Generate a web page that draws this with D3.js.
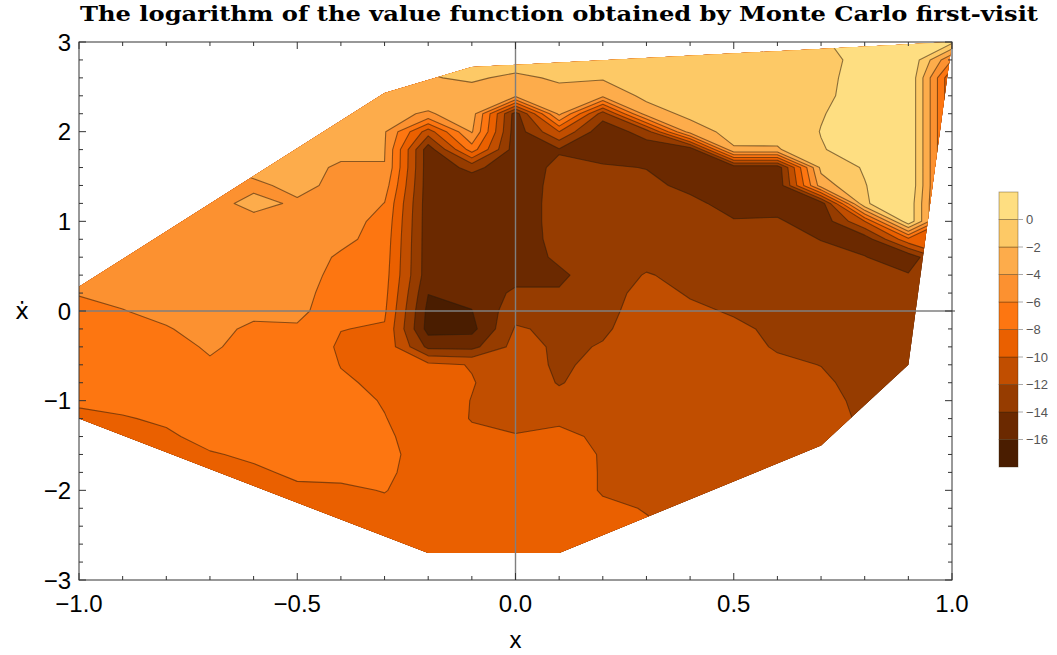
<!DOCTYPE html>
<html>
<head>
<meta charset="utf-8">
<script src="https://cdn.jsdelivr.net/npm/d3@7"></script>
<style>
  body { margin: 0; background: #fff; }
  svg { display: block; }
</style>
</head>
<body>
<svg></svg>
<script>
// размеры окна
const width = 1057;
const height = 655;
let svg = d3.select("svg")
  .attr("width", width)
  .attr("height", height);

// узлы сетки: x по горизонтали, x' сверху вниз
const xGrid = [-1.0, -0.9, -0.8, -0.7, -0.6, -0.5, -0.4, -0.3, -0.2, -0.1, 0.0,
               0.1, 0.2, 0.3, 0.4, 0.5, 0.6, 0.7, 0.8, 0.9, 1.0];
const yGrid = [3.0, 2.8, 2.6, 2.4, 2.2, 2.0, 1.8, 1.6, 1.4, 1.2, 1.0, 0.8, 0.6, 0.4, 0.2, 0.0,
               -0.2, -0.4, -0.6, -0.8, -1.0, -1.2, -1.4, -1.6, -1.8, -2.0, -2.2, -2.4, -2.6, -2.8, -3.0];

// log V по столбцам (для каждого x значения от x'=3 до x'=-3)
const logV = [
  // x = -1.0
  [-4.8, -4.8, -4.8, -4.8, -4.8, -4.8, -4.8, -4.8, -4.8, -4.8, -4.8, -4.8, -4.8, -5.2, -5.9, -6.5,
   -6.8, -7.0, -7.2, -7.5, -7.8, -8.3, -8.8, -9.0, -9.0, -9.0, -9.0, -9.0, -9.0, -9.0, -9.0],
  // x = -0.9
  [-4.8, -4.8, -4.8, -4.8, -4.8, -4.8, -4.8, -4.8, -4.8, -4.8, -4.8, -4.8, -5.0, -5.3, -5.6, -6.05,
   -6.4, -6.7, -6.9, -7.1, -7.6, -8.1, -8.6, -9.0, -9.0, -9.0, -9.0, -9.0, -9.0, -9.0, -9.0],
  // x = -0.8
  [-4.6, -4.6, -4.6, -4.6, -4.6, -4.6, -4.6, -4.6, -4.6, -4.6, -4.6, -4.6, -4.8, -5.0, -5.2, -5.6,
   -6.1, -6.6, -6.9, -7.1, -7.3, -7.8, -8.2, -8.6, -9.0, -9.0, -9.0, -9.0, -9.0, -9.0, -9.0],
  // x = -0.7
  [-4.2, -4.2, -4.2, -4.2, -4.2, -4.2, -4.2, -4.2, -4.2, -4.5, -4.6, -4.7, -4.8, -4.9, -5.0, -5.2,
   -5.5, -5.8, -6.2, -6.6, -6.9, -7.2, -7.6, -8.1, -8.6, -9.0, -9.0, -9.0, -9.0, -9.0, -9.0],
  // x = -0.6
  [-3.5, -3.5, -3.5, -3.5, -3.5, -3.5, -3.5, -3.5, -4.3, -3.6, -4.4, -4.6, -4.8, -5.0, -5.2, -5.6,
   -6.3, -6.5, -6.8, -7.0, -7.2, -7.4, -7.5, -7.8, -8.2, -8.7, -9.0, -9.0, -9.0, -9.0, -9.0],
  // x = -0.5
  [-3.0, -3.0, -3.0, -3.0, -3.0, -3.0, -3.3, -3.5, -3.6, -4.2, -4.5, -4.7, -4.9, -5.3, -5.5, -5.6,
   -6.2, -6.5, -6.8, -7.0, -7.2, -7.4, -7.5, -7.6, -7.8, -8.2, -8.6, -9.0, -9.0, -9.0, -9.0],
  // x = -0.4
  [-3.0, -3.0, -3.0, -3.0, -3.0, -3.3, -3.6, -4.2, -4.4, -4.05, -5.3, -5.5, -6.3, -6.5, -6.7, -7.0,
   -7.95, -8.3, -8.05, -7.8, -7.5, -7.4, -7.4, -7.5, -7.7, -8.2, -8.6, -8.9, -9.0, -9.0, -9.0],
  // x = -0.3
  [-3.0, -3.0, -3.0, -3.2, -3.5, -3.8, -3.9, -4.05, -5.0, -6.05, -6.5, -6.8, -7.0, -7.2, -7.4, -7.7,
   -8.2, -8.5, -8.6, -8.3, -8.1, -7.95, -7.8, -7.7, -7.8, -7.95, -8.3, -8.6, -8.9, -8.9, -8.9],
  // x = -0.2
  [-1.5, -1.7, -2.1, -3.0, -4.2, -11.0, -15.2, -15.2, -15.2, -15.2, -15.2, -15.2, -15.2, -15.2, -15.95, -16.6,
   -16.8, -14.5, -9.5, -9.2, -9.0, -8.8, -8.6, -8.5, -8.5, -8.6, -8.8, -9.0, -9.1, -9.2, -9.3],
  // x = -0.1
  [-0.8, -1.2, -1.8, -2.6, -3.0, -3.8, -7.0, -13.5, -15.2, -15.3, -15.3, -15.3, -15.3, -15.3, -15.5, -16.05,
   -16.6, -14.6, -10.1, -9.9, -10.05, -10.1, -9.6, -9.4, -9.3, -9.2, -9.2, -9.3, -9.4, -9.5, -9.6],
  // x = 0.0
  [-0.6, -1.2, -2.3, -3.5, -15.0, -15.2, -15.2, -15.2, -15.2, -15.2, -15.2, -15.2, -15.2, -14.8, -13.6, -12.7,
   -11.8, -11.3, -11.1, -11.0, -10.8, -10.5, -9.9, -9.6, -9.5, -9.4, -9.4, -9.4, -9.5, -9.6, -9.6],
  // x = 0.1
  [-0.5, -1.0, -1.8, -2.5, -3.5, -10.0, -14.2, -13.5, -13.3, -13.2, -13.2, -13.3, -13.6, -14.4, -13.8, -12.8,
   -12.4, -12.3, -12.3, -12.1, -11.5, -10.3, -9.6, -9.4, -9.3, -9.3, -9.3, -9.4, -9.5, -9.6, -9.6],
  // x = 0.2
  [-0.5, -1.0, -1.8, -3.5, -13.0, -15.5, -14.8, -13.8, -13.4, -13.2, -13.1, -13.0, -12.9, -12.8, -12.5, -12.4,
   -12.2, -11.9, -11.5, -11.3, -11.0, -10.7, -10.3, -10.1, -10.1, -10.1, -9.8, -9.7, -9.7, -9.7, -9.7],
  // x = 0.3
  [-0.4, -0.6, -1.0, -1.5, -3.0, -13.0, -15.2, -14.05, -13.6, -13.3, -13.1, -12.9, -12.5, -11.9, -11.6, -11.4,
   -11.3, -11.1, -11.0, -10.8, -10.6, -10.5, -10.4, -10.3, -10.2, -10.2, -10.05, -9.9, -9.9, -9.9, -9.9],
  // x = 0.4
  [-0.3, -0.5, -0.8, -1.2, -1.5, -3.0, -15.5, -15.2, -14.4, -13.6, -13.3, -13.0, -12.7, -12.4, -12.1, -11.8,
   -11.6, -11.4, -11.2, -11.0, -10.8, -10.6, -10.5, -10.4, -10.3, -10.3, -10.2, -10.2, -10.2, -10.2, -10.2],
  // x = 0.5
  [-0.2, -0.4, -0.6, -0.8, -1.0, -1.3, -2.2, -15.3, -15.5, -14.6, -13.9, -13.5, -13.1, -12.7, -12.4, -12.1,
   -11.8, -11.6, -11.4, -11.2, -11.0, -10.9, -10.8, -10.7, -10.6, -10.6, -10.6, -10.6, -10.6, -10.6, -10.6],
  // x = 0.6
  [-0.1, -0.3, -0.5, -0.7, -0.9, -1.2, -2.2, -15.3, -15.6, -15.0, -13.7, -13.3, -13.0, -12.8, -12.6, -12.4,
   -12.2, -12.1, -11.8, -11.6, -11.4, -11.3, -11.2, -11.1, -11.0, -11.0, -11.0, -11.0, -11.0, -11.0, -11.0],
  // x = 0.7
  [-0.2, -0.5, -0.4, -0.3, -0.1, 0.05, -0.1, -1.5, -3.0, -15.2, -15.4, -14.05, -13.4, -13.0, -12.7, -12.5,
   -12.3, -12.2, -12.02, -11.8, -11.6, -11.5, -11.4, -11.4, -11.4, -11.4, -11.4, -11.4, -11.4, -11.4, -11.4],
  // x = 0.8
  [0.8, 0.5, 0.6, 0.6, 0.8, 0.9, 0.7, 0.2, -0.1, -0.2, -10.0, -15.2, -13.9, -13.5, -13.2, -13.0,
   -12.8, -12.6, -12.5, -12.4, -12.3, -12.2, -12.2, -12.2, -12.2, -12.2, -12.2, -12.2, -12.2, -12.2, -12.2],
  // x = 0.9
  [2.0, 2.0, 2.0, 2.0, 2.0, 2.0, 2.0, 2.0, 2.0, 1.5, 1.5, -8.5, -15.5, -13.8, -13.4, -13.2,
   -13.0, -12.9, -12.8, -12.7, -12.7, -12.7, -12.7, -12.7, -12.7, -12.7, -12.7, -12.7, -12.7, -12.7, -12.7],
  // x = 1.0
  [0.5, -6.0, -10.0, -10.0, -10.0, -10.0, -10.0, -10.0, -10.0, -10.0, -10.0, -10.0, -10.0, -10.0, -10.0, -10.0,
   -10.0, -10.0, -10.0, -10.0, -10.0, -10.0, -10.0, -10.0, -10.0, -10.0, -10.0, -10.0, -10.0, -10.0, -10.0]
];

// выпуклая оболочка посещённых состояний
const hullX = [-1.0, -0.3, -0.1, 1.0, 0.9, 0.7, 0.1, -0.2, -1.0];
const hullY = [0.27, 2.43, 2.72, 3.0, -0.6, -1.5, -2.7, -2.7, -1.2];

// уровни и цвета (снизу вверх)
const levels = [-16, -14, -12, -10, -8, -6, -4, -2, 0];
const levelColors = ["#4a1d00", "#6b2900", "#963c00", "#c14e00", "#ea6000",
                     "#fd7611", "#fc9130", "#fdac4b", "#fdc966", "#fede81"];
const legendLabels = ["\u221216", "\u221214", "\u221212", "\u221210", "\u22128",
                      "\u22126", "\u22124", "\u22122", "0"];

const xTickValues = [-1, -0.5, 0, 0.5, 1];
const xTickLabels = ["\u22121.0", "\u22120.5", "0.0", "0.5", "1.0"];
const yTickValues = [-3, -2, -1, 0, 1, 2, 3];
const yTickLabels = ["\u22123", "\u22122", "\u22121", "0", "1", "2", "3"];

const title = "The logarithm of the value function obtained by Monte Carlo first-visit";

// шкалы
const x = d3.scaleLinear().domain([-1, 1]).range([79, 952]);
const y = d3.scaleLinear().domain([-3, 3]).range([580, 42]);

// плоский массив для d3.contours
const nx = xGrid.length;
const ny = yGrid.length;
const values = [];
for (let j = 0; j < ny; j++) {
  for (let i = 0; i < nx; i++) values.push(logV[i][j]);
}

const dx = xGrid[1] - xGrid[0];
const dy = yGrid[1] - yGrid[0];
const toScreen = d3.geoTransform({
  point: function(px, py) {
    this.stream.point(x(xGrid[0] + (px - 0.5) * dx), y(yGrid[0] + (py - 0.5) * dy));
  }
});
const path = d3.geoPath(toScreen);

const contours = d3.contours()
  .size([nx, ny])
  .thresholds([-100].concat(levels))(values);

// обрезка по оболочке
svg.append("clipPath")
  .attr("id", "hull")
  .append("polygon")
  .attr("points", hullX.map((v, i) => x(v) + "," + y(hullY[i])).join(" "));

let plot = svg.append("g").attr("clip-path", "url(#hull)");

plot.selectAll("path.fill")
  .data(contours)
  .enter().append("path")
  .attr("class", "fill")
  .attr("d", path)
  .style("fill", (d, k) => levelColors[k])
  .style("stroke", "none");

plot.selectAll("path.line")
  .data(contours.slice(1))
  .enter().append("path")
  .attr("class", "line")
  .attr("d", path)
  .style("fill", "none")
  .style("stroke", "rgba(45,28,10,0.55)")
  .style("stroke-width", 1.1)
  .style("stroke-linejoin", "round");

// оси через ноль
svg.append("line")
  .attr("x1", x(-1)).attr("x2", x(1) + 3)
  .attr("y1", y(0)).attr("y2", y(0))
  .style("stroke", "#7f7f7f").style("stroke-width", 1.4);
svg.append("line")
  .attr("x1", x(0)).attr("x2", x(0))
  .attr("y1", y(3)).attr("y2", y(-3))
  .style("stroke", "#7f7f7f").style("stroke-width", 1.4);

// рамка
svg.append("rect")
  .attr("x", x(-1)).attr("y", y(3))
  .attr("width", x(1) - x(-1)).attr("height", y(-3) - y(3))
  .style("fill", "none").style("stroke", "#333").style("stroke-width", 1);

// засечки рамки
let ticks = svg.append("g").style("stroke", "#333").style("stroke-width", 1);
for (let k = 0; k <= 20; k++) {
  let v = -1 + k * 0.1;
  let len = (k % 5 === 0) ? 7 : 4;
  ticks.append("line").attr("x1", x(v)).attr("x2", x(v)).attr("y1", y(-3)).attr("y2", y(-3) - len);
  ticks.append("line").attr("x1", x(v)).attr("x2", x(v)).attr("y1", y(3)).attr("y2", y(3) + len);
}
for (let k = 0; k <= 30; k++) {
  let v = -3 + k * 0.2;
  let len = (k % 5 === 0) ? 7 : 4;
  ticks.append("line").attr("x1", x(-1)).attr("x2", x(-1) + len).attr("y1", y(v)).attr("y2", y(v));
  ticks.append("line").attr("x1", x(1)).attr("x2", x(1) - len).attr("y1", y(v)).attr("y2", y(v));
}

// подписи засечек
const labelFont = "'Liberation Sans', Arial, sans-serif";
svg.selectAll("text.xt")
  .data(xTickValues)
  .enter().append("text")
  .attr("x", d => x(d))
  .attr("y", 612)
  .attr("text-anchor", "middle")
  .style("font-family", labelFont)
  .style("font-size", "24px")
  .text((d, i) => xTickLabels[i]);

svg.selectAll("text.yt")
  .data(yTickValues)
  .enter().append("text")
  .attr("x", 71)
  .attr("y", d => y(d) + 8.5)
  .attr("text-anchor", "end")
  .style("font-family", labelFont)
  .style("font-size", "24px")
  .text((d, i) => yTickLabels[i]);

// названия осей
svg.append("text")
  .attr("x", x(0)).attr("y", 648)
  .attr("text-anchor", "middle")
  .style("font-family", labelFont)
  .style("font-size", "24px")
  .text("x");
svg.append("text")
  .attr("x", 22).attr("y", y(0) + 8)
  .attr("text-anchor", "middle")
  .style("font-family", "'DejaVu Sans', sans-serif")
  .style("font-size", "23px")
  .text("\u1E8B");

// заголовок
svg.append("text")
  .attr("x", 80).attr("y", 21)
  .attr("textLength", 958)
  .attr("lengthAdjust", "spacingAndGlyphs")
  .style("font-family", "'DejaVu Serif', 'Liberation Serif', serif")
  .style("font-weight", "bold")
  .style("font-size", "20px")
  .text(title);

// легенда
const legTop = 192, legH = 27.5, legX = 999, legW = 19;
let legend = svg.append("g");
legend.selectAll("rect")
  .data(levelColors)
  .enter().append("rect")
  .attr("x", legX)
  .attr("y", (d, k) => legTop + (levelColors.length - 1 - k) * legH)
  .attr("width", legW)
  .attr("height", legH)
  .style("fill", d => d)
  .style("stroke", "rgba(60,40,10,0.45)")
  .style("stroke-width", 0.8);

legend.selectAll("line")
  .data(levels)
  .enter().append("line")
  .attr("x1", legX + legW).attr("x2", legX + legW + 5)
  .attr("y1", (d, k) => legTop + (levels.length - k) * legH)
  .attr("y2", (d, k) => legTop + (levels.length - k) * legH)
  .style("stroke", "#aaa").style("stroke-width", 1);

legend.selectAll("text")
  .data(levels)
  .enter().append("text")
  .attr("x", legX + legW + 8)
  .attr("y", (d, k) => legTop + (levels.length - k) * legH + 4.5)
  .style("font-family", labelFont)
  .style("font-size", "13px")
  .style("fill", "#555")
  .text((d, k) => legendLabels[k]);
</script>
</body>
</html>
